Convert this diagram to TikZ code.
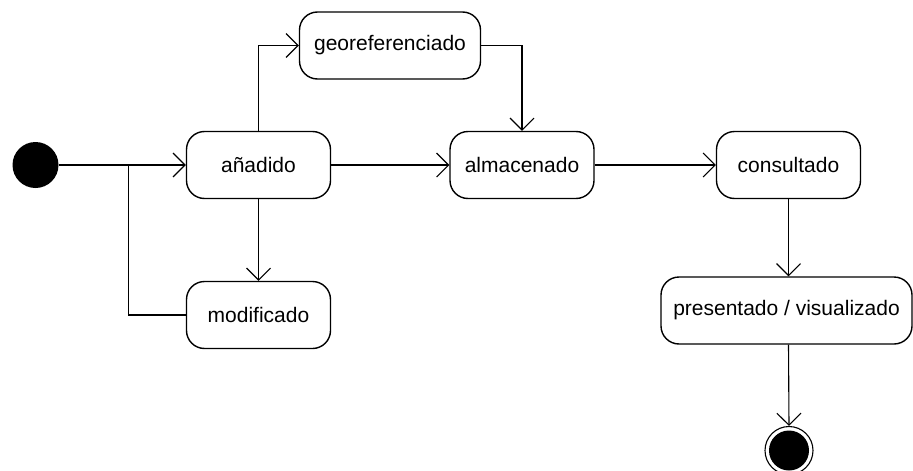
\documentclass[tikz,border=0pt]{standalone}
\usepackage{fontspec}
\setmainfont{Liberation Sans}
\usetikzlibrary{arrows.meta}
\begin{document}
\begin{tikzpicture}[x=1pt,y=-1pt,
  state/.style={draw, line width=1.4pt, rounded corners=18pt, minimum height=67pt,
    inner sep=0pt, font=\fontsize{21}{25}\selectfont},
  flow/.style={line width=1.1pt, -{Straight Barb[length=12pt,width=24pt,line width=1.1pt]}},
  link/.style={line width=1.1pt}]
\useasboundingbox (0,0) rectangle (913,471);

% initial and final pseudo-states
\node[circle, fill=black, minimum size=46pt, inner sep=0pt] (ini) at (35.5,165) {};
\node[circle, draw, line width=1.1pt, minimum size=48pt, inner sep=0pt] (fin) at (789,450.5) {};
\fill (fin.center) circle (20pt);

% states
\node[state, minimum width=144pt] (anadido) at (258.5,165) {añadido};
\node[state, minimum width=181pt] (geo) at (390,45.5) {georeferenciado};
\node[state, minimum width=144pt] (alm) at (522,165) {almacenado};
\node[state, minimum width=144pt] (cons) at (788.5,165) {consultado};
\node[state, minimum width=144pt] (mod) at (258.5,315) {modificado};
\node[state, minimum width=251pt] (pres) at (786.5,310.5) {presentado / visualizado};

% transitions
\coordinate (join) at (128.3,165);
\draw[flow] (ini) -- (anadido);
\draw[link] (mod.west) -| (join);
\draw[flow] (anadido.north) |- (geo.west);
\draw[flow] (geo.east) -| (alm.north);
\draw[flow] (anadido) -- (alm);
\draw[flow] (alm) -- (cons);
\draw[flow] (anadido) -- (mod);
\draw[flow] (cons.south) -- (cons.south |- pres.north);
\draw[flow] (cons.south |- pres.south) -- (fin.north);
\end{tikzpicture}
\end{document}
